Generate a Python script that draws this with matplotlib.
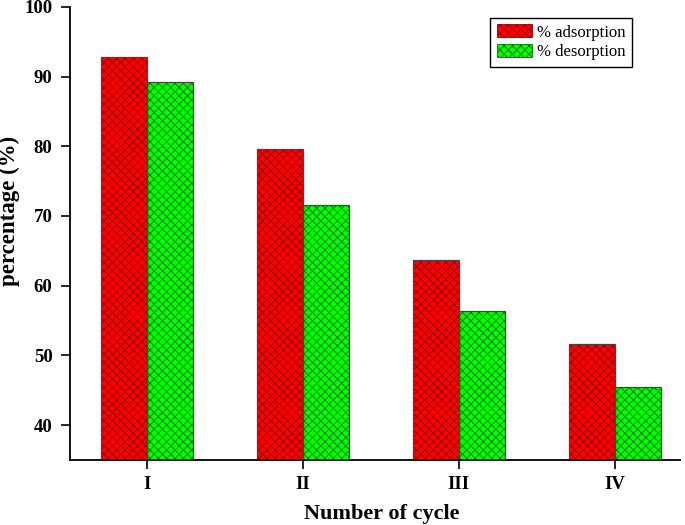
import matplotlib
matplotlib.use("Agg")
import matplotlib.pyplot as plt
import numpy as np

cycles = ["I", "II", "III", "IV"]
adsorption = [92.8, 79.6, 63.7, 51.6]
desorption = [89.2, 71.5, 56.4, 45.5]

plt.rcParams['font.family'] = ['Liberation Serif', 'DejaVu Serif']
plt.rcParams['hatch.linewidth'] = 0.6

fig = plt.figure(figsize=(6.85, 5.25), dpi=100)
ax = fig.add_axes([0.102, 0.124, 0.891, 0.863])

x = np.arange(1, len(cycles) + 1)
w = 0.296
# hatched fills (hatch colour follows edgecolor)
ax.bar(x - w/2, adsorption, w, color='#ff0000', edgecolor='#8a0000', hatch='xxxx', linewidth=0, label='% adsorption')
ax.bar(x + w/2, desorption, w, color='#00ff00', edgecolor='#007000', hatch='xxxx', linewidth=0, label='% desorption')
# outlines
ax.bar(x - w/2, adsorption, w, fill=False, edgecolor='#444444', linewidth=0.9)
ax.bar(x + w/2, desorption, w, fill=False, edgecolor='#444444', linewidth=0.9)

ax.set_ylim(35, 100)
ax.set_xlim(0.505, 4.42)
ax.set_xticks(x)
ax.set_xticklabels(cycles)
ax.set_yticks([40, 50, 60, 70, 80, 90, 100])
for s in ['top', 'right']:
    ax.spines[s].set_visible(False)
for s in ['left', 'bottom']:
    ax.spines[s].set_linewidth(1.3)
ax.tick_params(axis='both', direction='out', length=6.5, width=1.2, labelsize=13.5)
for lab in ax.get_xticklabels() + ax.get_yticklabels():
    lab.set_fontweight('bold')
ax.tick_params(axis='x', pad=5)
ax.tick_params(axis='y', pad=6)
ax.set_xlabel('Number of cycle', fontsize=16, fontweight='bold')
ax.xaxis.set_label_coords(0.511, -0.097)
ax.set_ylabel('percentage (%)', fontsize=16.5, fontweight='bold')
ax.yaxis.set_label_coords(-0.082, 0.55)

handles, labels = ax.get_legend_handles_labels()
leg = ax.legend(handles[:2], labels[:2], loc='upper right', bbox_to_anchor=(0.921, 0.976), fontsize=12,
                fancybox=False, edgecolor='black', framealpha=1, handlelength=2.1, handleheight=0.8,
                borderpad=0.4, labelspacing=0.2, handletextpad=0.3, borderaxespad=0)
leg.get_frame().set_linewidth(1.0)
for p in leg.get_patches():
    p.set_linewidth(0.6)

fig.savefig('out.png', dpi=100)
